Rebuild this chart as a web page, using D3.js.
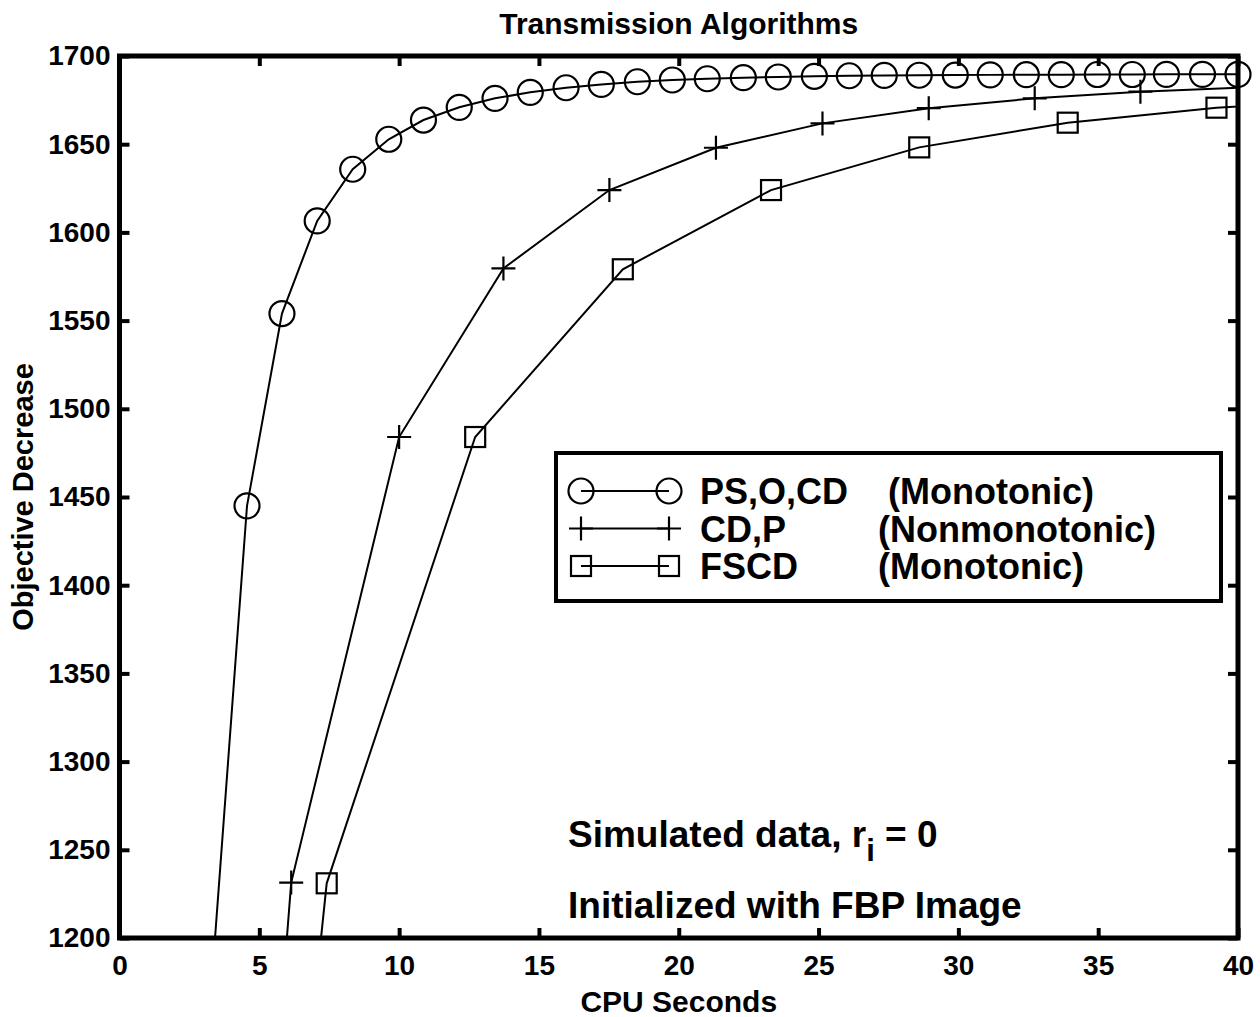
<!DOCTYPE html>
<html>
<head>
<meta charset="utf-8">
<script src="https://cdn.jsdelivr.net/npm/d3@7/dist/d3.min.js"></script>
<style>
  html, body { margin: 0; padding: 0; background: #fff; }
  svg { display: block; }
  text { font-family: "Liberation Sans", Arial, Helvetica, sans-serif; font-weight: bold; fill: #000; }
</style>
</head>
<body>
<div id="chart"></div>
<script>
// ---- Data ----
const titleText = "Transmission Algorithms";
const xLabelText = "CPU Seconds";
const yLabelText = "Objective Decrease";

const xTicks = [0, 5, 10, 15, 20, 25, 30, 35, 40];
const yTicks = [1200, 1250, 1300, 1350, 1400, 1450, 1500, 1550, 1600, 1650, 1700];

// PS,O,CD (Monotonic) – circles
const cpuPSOCD = [3.29, 4.56, 5.81, 7.07, 8.34, 9.63, 10.87, 12.15, 13.43, 14.69, 15.97, 17.23, 18.52, 19.77, 21.02,
                  22.31, 23.56, 24.85, 26.10, 27.35, 28.60, 29.89, 31.14, 32.43, 33.68, 34.97, 36.22, 37.44, 38.73, 40.0];
const objPSOCD = [1173, 1445, 1554, 1606.5, 1635.8, 1652.8, 1663.7, 1670.9, 1676.0, 1679.4, 1682.0, 1683.9, 1685.4, 1686.4, 1687.1,
                  1687.7, 1688.1, 1688.5, 1688.8, 1689.0, 1689.1, 1689.2, 1689.3, 1689.4, 1689.4, 1689.5, 1689.5, 1689.6, 1689.6, 1689.6];

// CD,P (Nonmonotonic) – plus
const cpuCDP = [2.35, 6.14, 10.0, 13.73, 17.52, 21.33, 25.14, 28.94, 32.73, 36.51, 40.3];
const objCDP = [460, 1231.4, 1484.0, 1579.6, 1624.0, 1648.0, 1661.8, 1670.4, 1676.0, 1679.8, 1682.2];

// FSCD (Monotonic) – squares
const cpuFSCD = [2.12, 7.41, 12.72, 18.00, 23.30, 28.60, 33.91, 39.23, 44.5];
const objFSCD = [425, 1231.0, 1484.0, 1579.1, 1624.0, 1648.2, 1662.2, 1670.7, 1675.0];

const seriesNames = ["PS,O,CD", "CD,P", "FSCD"];
const seriesNotes = ["(Monotonic)", "(Nonmonotonic)", "(Monotonic)"];
const seriesMarkers = ["circle", "plus", "square"];

const annotation1 = "Simulated data, r";
const annotation1Sub = "i";
const annotation1End = " = 0";
const annotation2 = "Initialized with FBP Image";

// ---- Layout ----
const W = 1260, H = 1017;
const m = { left: 119.5, right: 1238, top: 56, bottom: 938 };

const svg = d3.select("#chart").append("svg").attr("width", W).attr("height", H);

const x = d3.scaleLinear().domain([0, 40]).range([m.left, m.right]);
const y = d3.scaleLinear().domain([1200, 1700]).range([m.bottom, m.top]);

svg.append("defs").append("clipPath").attr("id", "plotclip")
  .append("rect").attr("x", m.left).attr("y", m.top)
  .attr("width", m.right - m.left).attr("height", m.bottom - m.top);

// Title
svg.append("text").attr("x", (m.left + m.right) / 2).attr("y", 34)
  .attr("text-anchor", "middle").style("font-size", "30px").text(titleText);

// Axes labels
svg.append("text").attr("x", (m.left + m.right) / 2).attr("y", 1012)
  .attr("text-anchor", "middle").style("font-size", "30px").text(xLabelText);
svg.append("text")
  .attr("transform", `translate(33,${(m.top + m.bottom) / 2}) rotate(-90)`)
  .attr("text-anchor", "middle").style("font-size", "29px").text(yLabelText);

// Axes via d3 (bottom/left with labels, top/right mirrored ticks)
const tickLen = 10;
const axB = svg.append("g").attr("transform", `translate(0,${m.bottom})`)
  .call(d3.axisBottom(x).tickValues(xTicks).tickSize(-tickLen).tickPadding(17).tickFormat(d3.format("d")));
const axT = svg.append("g").attr("transform", `translate(0,${m.top})`)
  .call(d3.axisTop(x).tickValues(xTicks).tickSize(-tickLen).tickFormat(""));
const axL = svg.append("g").attr("transform", `translate(${m.left},0)`)
  .call(d3.axisLeft(y).tickValues(yTicks).tickSize(-tickLen).tickPadding(9).tickFormat(d3.format("d")));
const axR = svg.append("g").attr("transform", `translate(${m.right},0)`)
  .call(d3.axisRight(y).tickValues(yTicks).tickSize(-tickLen).tickFormat(""));

[axB, axT, axL, axR].forEach(g => {
  g.select(".domain").remove();
  g.selectAll(".tick line").attr("stroke", "#000").attr("stroke-width", 4);
  g.selectAll(".tick text").style("font-size", "28px").style("font-family", "'Liberation Sans', Arial, sans-serif")
    .style("font-weight", "bold").attr("fill", "#000");
});
axB.selectAll(".tick text").attr("dy", "0.71em");

// Frame
svg.append("rect").attr("x", m.left).attr("y", m.top)
  .attr("width", m.right - m.left).attr("height", m.bottom - m.top)
  .attr("fill", "none").attr("stroke", "#000").attr("stroke-width", 5);

// Series
const series = [
  { xs: cpuPSOCD, ys: objPSOCD, marker: seriesMarkers[0] },
  { xs: cpuCDP, ys: objCDP, marker: seriesMarkers[1] },
  { xs: cpuFSCD, ys: objFSCD, marker: seriesMarkers[2] }
];

const line = d3.line().x(d => x(d[0])).y(d => y(d[1]));

function drawMarker(g, type, cx, cy) {
  if (type === "circle") {
    g.append("circle").attr("cx", cx).attr("cy", cy).attr("r", 12.5)
      .attr("fill", "none").attr("stroke", "#000").attr("stroke-width", 2.2);
  } else if (type === "plus") {
    g.append("path").attr("d", `M${cx - 12},${cy}H${cx + 12}M${cx},${cy - 12}V${cy + 12}`)
      .attr("stroke", "#000").attr("stroke-width", 2.2).attr("fill", "none");
  } else {
    g.append("rect").attr("x", cx - 10).attr("y", cy - 10).attr("width", 20).attr("height", 20)
      .attr("fill", "none").attr("stroke", "#000").attr("stroke-width", 2.2);
  }
}

const plotG = svg.append("g");
series.forEach(s => {
  const pts = s.xs.map((v, i) => [v, s.ys[i]]);
  plotG.append("path").datum(pts).attr("d", line).attr("clip-path", "url(#plotclip)")
    .attr("fill", "none").attr("stroke", "#000").attr("stroke-width", 2);
  const mg = plotG.append("g");
  pts.filter(p => p[0] >= 0 && p[0] <= 40.05 && p[1] >= 1200 && p[1] <= 1700)
    .forEach(p => drawMarker(mg, s.marker, x(p[0]), y(p[1])));
});

// Legend
const lg = svg.append("g");
lg.append("rect").attr("x", 556).attr("y", 453).attr("width", 665).attr("height", 148)
  .attr("fill", "#fff").attr("stroke", "#000").attr("stroke-width", 4);
const rowY = [491, 528.5, 566];
const noteX = [888, 878, 878];
seriesNames.forEach((name, i) => {
  const yy = rowY[i];
  lg.append("line").attr("x1", 581).attr("x2", 669).attr("y1", yy).attr("y2", yy)
    .attr("stroke", "#000").attr("stroke-width", 2);
  drawMarker(lg, seriesMarkers[i], 581, yy);
  drawMarker(lg, seriesMarkers[i], 669, yy);
  lg.append("text").attr("x", 700).attr("y", yy + 13).style("font-size", "36px").text(name);
  lg.append("text").attr("x", noteX[i]).attr("y", yy + 13).style("font-size", "36px").text(seriesNotes[i]);
});

// Annotations
const a1 = svg.append("text").attr("x", 568).attr("y", 847).style("font-size", "37px");
a1.append("tspan").text(annotation1);
a1.append("tspan").attr("dy", 14).style("font-size", "31px").text(annotation1Sub);
a1.append("tspan").attr("dy", -14).text(annotation1End);
svg.append("text").attr("x", 568).attr("y", 918).style("font-size", "37px").text(annotation2);
</script>
</body>
</html>
